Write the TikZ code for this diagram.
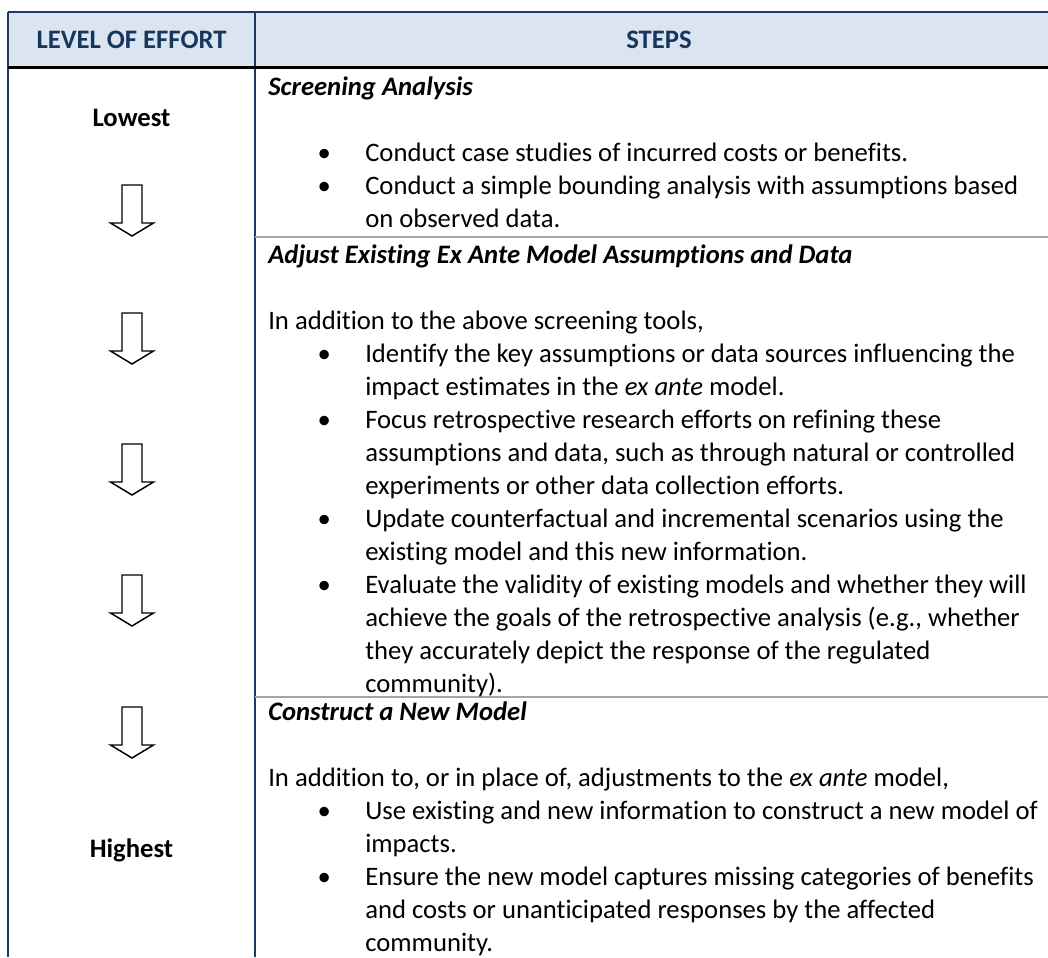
\documentclass[tikz,border=0pt]{standalone}
\usepackage{fontspec}
\setmainfont{Carlito}[Ligatures=NoCommon]
\definecolor{tabnavy}{HTML}{1F3864}
\definecolor{headnavy}{HTML}{17365D}
\definecolor{headfill}{HTML}{DBE5F1}
\definecolor{rowrule}{HTML}{A5A5A5}
\newcommand{\bul}{\hspace*{37pt}\makebox[35.75pt][l]{\textbullet}}
\newcommand{\cont}{\hspace*{72.75pt}}
\tikzset{
  headtext/.style={font={\fontsize{20}{24.75}\selectfont\bfseries}, text=headnavy, inner sep=0pt, anchor=base},
  leveltext/.style={font={\fontsize{20}{24.75}\selectfont\bfseries}, inner sep=0pt, anchor=base},
  celltext/.style={font={\fontsize{20}{24.75}\selectfont}, align=flush left, text width=600pt, inner sep=0pt, anchor=base west},
  effortarrow/.style={draw=black, line width=1.1pt, fill=white, line join=miter},
  tabline/.style={draw=tabnavy, line width=1.1pt},
}
\begin{document}
\begin{tikzpicture}[x=0.75pt, y=-0.75pt]
  \useasboundingbox (0,0) rectangle (1048,957);
  \fill[headfill] (8,12) rectangle (1048,67);
  \draw[tabline] (8,12) -- (1048,12);
  \draw[tabline] (8,12) -- (8,957);
  \draw[tabline] (255,12) -- (255,957);
  \draw[draw=black, line width=2.25pt] (8,67) -- (1048,67);
  \draw[draw=rowrule, line width=1.1pt] (255,237) -- (1048,237);
  \draw[draw=rowrule, line width=1.1pt] (255,697) -- (1048,697);

  \node[headtext] (effort) at (131.5,48.5) {LEVEL OF EFFORT};
  \node[headtext] (steps) at (659,48.5) {STEPS};
  \node[leveltext] (lowest) at (131.5,126) {Lowest};
  \node[leveltext] (highest) at (131.5,857) {Highest};

  \foreach \t in {185,313,444,575,707}
    \draw[effortarrow] (122,\t) -- ++(20,0) -- ++(0,38) -- ++(11.5,0)
      -- (132,{\t+51}) -- ++(-21.5,-13) -- ++(11.5,0) -- cycle;

  \node[celltext] (screening) at (268,95) {%
    \textbf{\textit{Screening Analysis}}\\[24.75pt]
    \bul Conduct case studies of incurred costs or benefits.\\
    \bul Conduct a simple bounding analysis with assumptions based\\
    \cont on observed data.};
  \node[celltext] (adjust) at (268,263) {%
    \textbf{\textit{Adjust Existing Ex Ante Model Assumptions and Data}}\\[24.75pt]
    In addition to the above screening tools,\\
    \bul Identify the key assumptions or data sources influencing the\\
    \cont impact estimates in the \textit{ex ante} model.\\
    \bul Focus retrospective research efforts on refining these\\
    \cont assumptions and data, such as through natural or controlled\\
    \cont experiments or other data collection efforts.\\
    \bul Update counterfactual and incremental scenarios using the\\
    \cont existing model and this new information.\\
    \bul Evaluate the validity of existing models and whether they will\\
    \cont achieve the goals of the retrospective analysis (e.g., whether\\
    \cont they accurately depict the response of the regulated\\
    \cont community).};
  \node[celltext] (newmodel) at (268,720) {%
    \textbf{\textit{Construct a New Model}}\\[24.75pt]
    In addition to, or in place of, adjustments to the \textit{ex ante} model,\\
    \bul Use existing and new information to construct a new model of\\
    \cont impacts.\\
    \bul Ensure the new model captures missing categories of benefits\\
    \cont and costs or unanticipated responses by the affected\\
    \cont community.};
\end{tikzpicture}
\end{document}
